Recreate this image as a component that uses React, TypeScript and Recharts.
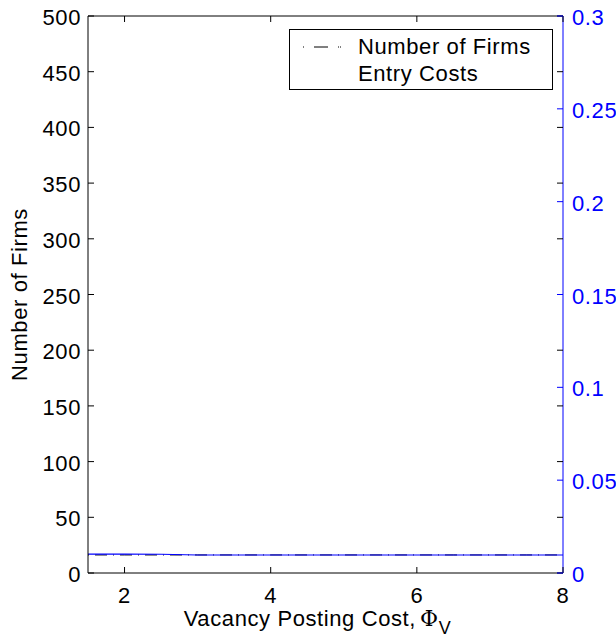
import React from 'react';
import { LineChart, Line, XAxis, YAxis, ReferenceLine } from 'recharts';

// vacancy posting cost grid
const phiV = [1.5, 2, 2.5, 3, 3.5, 4, 4.5, 5, 5.5, 6, 6.5, 7, 7.5, 8];
// number of firms (left axis) - sits under the entry cost line
const firms = [16.2, 16.2, 16.2, 16.2, 16.2, 16.2, 16.2, 16.2, 16.2, 16.2, 16.2, 16.2, 16.2, 16.2];
// entry costs (right axis)
const entryCosts = [0.0102, 0.0102, 0.0101, 0.0097, 0.0097, 0.0097, 0.0097, 0.0097, 0.0097, 0.0097, 0.0097, 0.0097, 0.0097, 0.0097];

const xTicks = [2, 4, 6, 8];
const leftTicks = [0, 50, 100, 150, 200, 250, 300, 350, 400, 450, 500];
const rightTicks = [0, 0.05, 0.1, 0.15, 0.2, 0.25, 0.3];

const seriesNames = ['Number of Firms', 'Entry Costs'];

const data = phiV.map((x, i) => ({
  phi: x,
  firms: firms[i],
  entry: entryCosts[i],
}));

const FONT = '"Liberation Sans", Arial, Helvetica, sans-serif';
const FS = 22;
const LS = 0.6;
const BLUE = '#0000ff';
const PLOT_W = 475;
const PLOT_H = 557;

const XTick = (props: any) => {
  const { x, y, payload } = props;
  return (
    <g>
      <line x1={x} x2={x} y1={y} y2={y - 6} stroke="#000" />
      <line x1={x} x2={x} y1={y - PLOT_H} y2={y - PLOT_H + 6} stroke="#000" />
      <text x={x} y={y + 30} textAnchor="middle" fontSize={FS} letterSpacing={LS} fill="#000" fontFamily={FONT}>
        {payload.value}
      </text>
    </g>
  );
};

const LeftTick = (props: any) => {
  const { x, y, payload } = props;
  return (
    <g>
      <line x1={x} x2={x + 6} y1={y} y2={y} stroke="#000" />
      <line x1={x + PLOT_W} x2={x + PLOT_W - 6} y1={y} y2={y} stroke="#000" />
      <text x={x - 7} y={y + 9} textAnchor="end" fontSize={FS} letterSpacing={LS} fill="#000" fontFamily={FONT}>
        {payload.value}
      </text>
    </g>
  );
};

const RightTick = (props: any) => {
  const { x, y, payload } = props;
  return (
    <g>
      <line x1={x} x2={x - 6} y1={y} y2={y} stroke={BLUE} />
      <text x={x + 9} y={y + 9} textAnchor="start" fontSize={FS} letterSpacing={LS} fill={BLUE} fontFamily={FONT}>
        {payload.value}
      </text>
    </g>
  );
};

const XLabel = (props: any) => {
  const vb = props.viewBox;
  const cx = vb.x + vb.width / 2 - 8;
  return (
    <text x={cx} y={vb.y + 53} textAnchor="middle" fontSize={FS} letterSpacing={LS} fill="#000" fontFamily={FONT}>
      Vacancy Posting Cost,
      <tspan fontFamily='"DejaVu Serif", serif' dx={4}>Φ</tspan>
      <tspan dy={8} fontSize={18}>V</tspan>
    </text>
  );
};

export default function App() {
  return (
    <div style={{ position: 'absolute', left: 0, top: 0, width: 616, height: 639, background: '#fff' }}>
      <LineChart width={616} height={639} data={data} margin={{ top: 16, right: 0, bottom: 0, left: 0 }}>
        <XAxis
          dataKey="phi"
          type="number"
          domain={[1.5, 8]}
          ticks={xTicks}
          height={66}
          stroke="#000"
          tickSize={0}
          tickMargin={0}
          tickLine={false}
          tick={<XTick />}
          label={<XLabel />}
        />
        <YAxis
          yAxisId="left"
          domain={[0, 500]}
          ticks={leftTicks}
          width={88}
          stroke="#000"
          tickSize={0}
          tickMargin={0}
          tickLine={false}
          tick={<LeftTick />}
          label={{
            value: 'Number of Firms',
            angle: -90,
            position: 'insideLeft',
            dx: 14,
            dy: 0,
            style: { textAnchor: 'middle', fontSize: FS, letterSpacing: LS, fill: '#000', fontFamily: FONT },
          }}
        />
        <YAxis
          yAxisId="right"
          orientation="right"
          domain={[0, 0.3]}
          ticks={rightTicks}
          width={53}
          stroke={BLUE}
          tickSize={0}
          tickMargin={0}
          tickLine={false}
          tick={<RightTick />}
        />
        <ReferenceLine yAxisId="left" y={500} stroke="#000" />
        <Line
          yAxisId="left"
          dataKey="firms"
          name={seriesNames[0]}
          stroke="#000"
          strokeDasharray="1 6 12 6"
          dot={false}
          isAnimationActive={false}
        />
        <Line
          yAxisId="right"
          dataKey="entry"
          name={seriesNames[1]}
          stroke={BLUE}
          strokeWidth={1.2}
          dot={false}
          isAnimationActive={false}
        />
      </LineChart>
      <div
        style={{
          position: 'absolute',
          left: 289,
          top: 29,
          width: 262,
          height: 59,
          border: '1px solid #000',
          background: '#fff',
          fontFamily: FONT,
          fontSize: FS,
          letterSpacing: LS,
          color: '#000',
        }}
      >
        <svg style={{ position: 'absolute', left: 12, top: 12 }} width={40} height={10}>
          <line x1={1} x2={39} y1={5} y2={5} stroke="#000" strokeDasharray="1 10 14 10 1" />
        </svg>
        <div style={{ position: 'absolute', left: 68, top: 4, lineHeight: '26px', whiteSpace: 'nowrap' }}>{seriesNames[0]}</div>
        <div style={{ position: 'absolute', left: 68, top: 31, lineHeight: '26px', whiteSpace: 'nowrap' }}>{seriesNames[1]}</div>
      </div>
    </div>
  );
}
